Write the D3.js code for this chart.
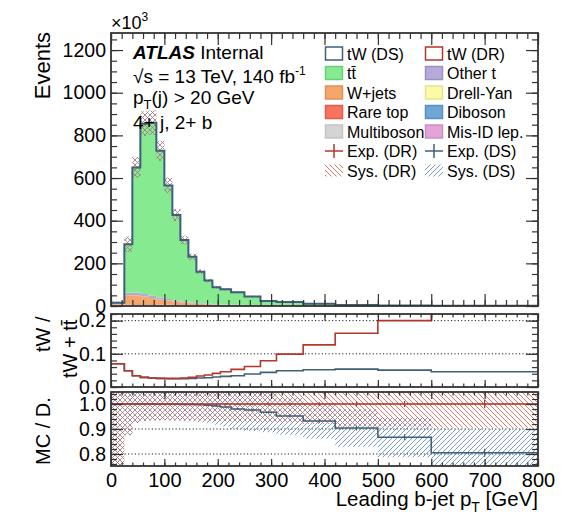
<!DOCTYPE html>
<html>
<head>
<meta charset="utf-8">
<script src="https://cdn.jsdelivr.net/npm/d3@7"></script>
<style>
body { margin: 0; background: #fff; }
text { font-family: "Liberation Sans", Arial, sans-serif; fill: #000; }
</style>
</head>
<body>
<svg id="chart" width="571" height="517"></svg>
<script>
// bin edges in GeV
var binEdges = [0, 25, 40, 55, 70, 85, 100, 115, 130, 145, 160, 175, 190, 205, 225, 250, 280, 310, 360, 420, 500, 600, 800]

// stacked MC, events / 1000
var misIdLep   = [0.5, 2, 2.5, 2.5, 2.2, 2, 1.6, 1.3, 1, 0.8, 0.6, 0.5, 0.4, 0.3, 0.3, 0.2, 0.1, 0.1, 0.05, 0.03, 0.02, 0.01]
var multiboson = [0.05, 0.05, 0.05, 0.05, 0.05, 0.05, 0.05, 0.05, 0.05, 0.05, 0.05, 0.05, 0.05, 0.05, 0.05, 0.05, 0.05, 0.05, 0.03, 0.02, 0.01, 0.01]
var diboson    = [0.2, 0.6, 0.8, 0.8, 0.8, 0.7, 0.6, 0.5, 0.4, 0.35, 0.3, 0.25, 0.2, 0.2, 0.15, 0.12, 0.1, 0.08, 0.05, 0.03, 0.02, 0.01]
var drellYan   = [0.3, 1, 1.2, 1.2, 1.1, 1, 0.8, 0.6, 0.5, 0.4, 0.3, 0.25, 0.2, 0.15, 0.12, 0.1, 0.07, 0.05, 0.03, 0.02, 0.01, 0.01]
var rareTop    = [0.8, 3, 4, 4, 4, 3.6, 3.2, 2.8, 2.4, 2, 1.6, 1.3, 1.1, 1, 0.9, 0.7, 0.5, 0.45, 0.3, 0.2, 0.1, 0.05]
var wJets      = [6, 44, 42, 36, 29, 23, 19, 15, 12, 9, 7, 5.5, 4.2, 3.6, 3, 2.2, 1.4, 1.1, 0.7, 0.4, 0.2, 0.1]
var otherT     = [5, 12, 13, 12, 10.5, 9, 7.5, 6, 5, 4, 3.2, 2.6, 2.1, 1.8, 1.5, 1.1, 0.8, 0.6, 0.4, 0.2, 0.12, 0.05]
var ttbar      = [2, 227, 586, 798, 812, 688, 532, 400, 288, 214, 148, 109, 80, 71, 58, 39.5, 20, 16.6, 9.5, 4.1, 2, 1]

// tW / (tW + ttbar)
var fracDR = [0.070, 0.049, 0.034, 0.029, 0.027, 0.026, 0.026, 0.026, 0.027, 0.029, 0.033, 0.036, 0.041, 0.046, 0.053, 0.062, 0.079, 0.099, 0.127, 0.162, 0.200, 0.300]
var fracDS = [0.070, 0.049, 0.034, 0.029, 0.027, 0.026, 0.025, 0.025, 0.025, 0.026, 0.027, 0.028, 0.030, 0.032, 0.034, 0.039, 0.044, 0.049, 0.052, 0.054, 0.051, 0.046]

// MC / data
var mcDataDR = [1, 1, 1, 1, 1, 1, 1, 1, 1, 1, 1, 1, 1, 1, 1, 1, 1, 1, 1, 1, 1, 1]
var mcDataDS = [1, 1, 1, 1, 1, 0.999, 0.999, 0.999, 0.998, 0.998, 0.997, 0.995, 0.992, 0.988, 0.980, 0.976, 0.967, 0.952, 0.932, 0.904, 0.867, 0.805]
var expErr   = [0.004, 0.002, 0.002, 0.002, 0.002, 0.002, 0.002, 0.002, 0.002, 0.003, 0.003, 0.003, 0.004, 0.004, 0.004, 0.005, 0.006, 0.006, 0.008, 0.010, 0.012, 0.016]
var sysDR    = [0.40, 0.125, 0.076, 0.068, 0.066, 0.065, 0.065, 0.065, 0.065, 0.065, 0.066, 0.067, 0.068, 0.069, 0.07, 0.07, 0.072, 0.075, 0.08, 0.09, 0.09, 0.095]
var sysDS    = [0.40, 0.125, 0.076, 0.068, 0.066, 0.065, 0.065, 0.066, 0.067, 0.068, 0.07, 0.072, 0.075, 0.078, 0.08, 0.084, 0.08, 0.075, 0.07, 0.075, 0.08, 0.095]

var mainTicks = [0, 200, 400, 600, 800, 1000, 1200]
var fracTicks = [0, 0.1, 0.2]
var mcTicks = [0.8, 0.9, 1.0]
var xTicks = [0, 100, 200, 300, 400, 500, 600, 700, 800]

var cDS = "#3f5f7b", cDR = "#b3372d"

var layers = [
    {key: "misid", values: misIdLep, color: "#e3a5d8"},
    {key: "multib", values: multiboson, color: "#d4d4d4"},
    {key: "dib", values: diboson, color: "#6fa7d4"},
    {key: "dy", values: drellYan, color: "#fbfaa8"},
    {key: "rare", values: rareTop, color: "#f7735f"},
    {key: "wjets", values: wJets, color: "#f5a66b"},
    {key: "othert", values: otherT, color: "#b6aad9"},
    {key: "ttbar", values: ttbar, color: "#86ea90"}
]

var svg = d3.select("#chart")
var defs = svg.append("defs")

function hatch(id, color, dir) {
    var p = defs.append("pattern").attr("id", id)
        .attr("patternUnits", "userSpaceOnUse").attr("width", 5).attr("height", 5)
    var d = dir == "back" ? "M-1,-1 L6,6 M-1,4 L1,6 M4,-1 L6,1" : "M-1,6 L6,-1 M-1,1 L1,-1 M4,6 L6,4"
    p.append("path").attr("d", d).attr("stroke", color).attr("stroke-width", 0.9).attr("fill", "none")
}
hatch("hDR", "#d9685e", "back")
hatch("hDS", "#6a93b6", "fwd")
hatch("hDRl", "#d9685e", "back")

var x = d3.scaleLinear().domain([0, 800]).range([111, 538])
var yMain = d3.scaleLinear().domain([0, 1280]).range([306, 33])
var yFrac = d3.scaleLinear().domain([0, 0.22]).range([387, 314])
var yMc = d3.scaleLinear().domain([0.752, 1.048]).range([466, 392])

function clip(id, y0, y1) {
    defs.append("clipPath").attr("id", id).append("rect")
        .attr("x", 111).attr("y", y0).attr("width", 427).attr("height", y1 - y0)
}
clip("cMain", 33, 306)
clip("cFrac", 314, 387)
clip("cMc", 392, 466)

function stepPts() {
    var pts = []
    for (var i = 0; i < binEdges.length - 1; i++) {
        pts.push({x: binEdges[i], i: i})
        pts.push({x: binEdges[i + 1], i: i})
    }
    return pts
}

function stepLine(y, vals) {
    return d3.line().x(function(p) { return x(p.x) }).y(function(p) { return y(vals[p.i]) })(stepPts())
}

// ---------- main panel ----------
var rows = binEdges.slice(0, -1).map(function(e, i) {
    var r = {}
    layers.forEach(function(l) { r[l.key] = l.values[i] })
    return r
})
var series = d3.stack().keys(layers.map(function(l) { return l.key }))(rows)
var total = series[series.length - 1].map(function(s) { return s[1] })

var gMain = svg.append("g").attr("clip-path", "url(#cMain)")
var area = function(s) {
    return d3.area().x(function(p) { return x(p.x) })
        .y0(function(p) { return yMain(s[p.i][0]) })
        .y1(function(p) { return yMain(s[p.i][1]) })(stepPts())
}
series.forEach(function(s, k) {
    gMain.append("path").attr("d", area(s)).attr("fill", layers[k].color)
})

// sys bands on the stack
;[["hDS", sysDS], ["hDR", sysDR]].forEach(function(b) {
    gMain.selectAll(null).data(total).enter().append("rect")
        .attr("x", function(d, i) { return x(binEdges[i]) })
        .attr("width", function(d, i) { return x(binEdges[i + 1]) - x(binEdges[i]) })
        .attr("y", function(d, i) { return yMain(d * (1 + b[1][i])) })
        .attr("height", function(d, i) { return yMain(d * (1 - b[1][i])) - yMain(d * (1 + b[1][i])) })
        .attr("fill", "url(#" + b[0] + ")")
})

gMain.append("path").attr("d", "M" + x(0) + "," + yMain(0) + " L" + stepLine(yMain, total).slice(1))
    .attr("fill", "none").attr("stroke", cDS).attr("stroke-width", 2)

// ---------- tW fraction panel ----------
var gFrac = svg.append("g").attr("clip-path", "url(#cFrac)")
fracTicks.slice(1).forEach(function(t) {
    gFrac.append("line").attr("x1", 111).attr("x2", 538).attr("y1", yFrac(t)).attr("y2", yFrac(t))
        .attr("stroke", "#222").attr("stroke-width", 1).attr("stroke-dasharray", "1.2,2.2")
})
gFrac.append("path").attr("d", stepLine(yFrac, fracDS)).attr("fill", "none").attr("stroke", cDS).attr("stroke-width", 1.6)
gFrac.append("path").attr("d", stepLine(yFrac, fracDR)).attr("fill", "none").attr("stroke", cDR).attr("stroke-width", 1.6)

// ---------- MC / data panel ----------
var gMc = svg.append("g").attr("clip-path", "url(#cMc)")
mcTicks.forEach(function(t) {
    gMc.append("line").attr("x1", 111).attr("x2", 538).attr("y1", yMc(t)).attr("y2", yMc(t))
        .attr("stroke", "#222").attr("stroke-width", 1).attr("stroke-dasharray", "1.2,2.2")
})
;[["hDS", mcDataDS, sysDS], ["hDR", mcDataDR, sysDR]].forEach(function(b) {
    gMc.selectAll(null).data(b[1]).enter().append("rect")
        .attr("x", function(d, i) { return x(binEdges[i]) })
        .attr("width", function(d, i) { return x(binEdges[i + 1]) - x(binEdges[i]) })
        .attr("y", function(d, i) { return yMc(d + b[2][i]) })
        .attr("height", function(d, i) { return yMc(d - b[2][i]) - yMc(d + b[2][i]) })
        .attr("fill", "url(#" + b[0] + ")")
})
;[[mcDataDS, cDS], [mcDataDR, cDR]].forEach(function(b) {
    gMc.append("path").attr("d", stepLine(yMc, b[0])).attr("fill", "none").attr("stroke", b[1]).attr("stroke-width", 1.6)
    gMc.selectAll(null).data(b[0]).enter().append("line")
        .attr("x1", function(d, i) { return x((binEdges[i] + binEdges[i + 1]) / 2) })
        .attr("x2", function(d, i) { return x((binEdges[i] + binEdges[i + 1]) / 2) })
        .attr("y1", function(d, i) { return yMc(d + expErr[i]) })
        .attr("y2", function(d, i) { return yMc(d - expErr[i]) })
        .attr("stroke", b[1]).attr("stroke-width", 1.2)
})

// ---------- frames and ticks ----------
function frame(y, y0, y1, major, minor, big, small, labels, fmt) {
    var g = svg.append("g")
    var xMinor = d3.range(0, 801, 20)
    var ax = [
        [d3.axisBottom(x).tickValues(xTicks).tickSize(-big), y1, false],
        [d3.axisBottom(x).tickValues(xMinor).tickSize(-small), y1, false],
        [d3.axisTop(x).tickValues(xTicks).tickSize(-big), y0, false],
        [d3.axisTop(x).tickValues(xMinor).tickSize(-small), y0, false]
    ]
    ax.forEach(function(a) {
        var ga = g.append("g").attr("transform", "translate(0," + a[1] + ")").call(a[0].tickFormat(""))
        ga.select(".domain").remove()
        ga.selectAll("line").attr("stroke", "#333").attr("stroke-width", 1.2)
    })
    var ay = [
        [d3.axisLeft(y).tickValues(major).tickSize(-12), 111],
        [d3.axisLeft(y).tickValues(minor).tickSize(-6), 111],
        [d3.axisRight(y).tickValues(major).tickSize(-12), 538],
        [d3.axisRight(y).tickValues(minor).tickSize(-6), 538]
    ]
    ay.forEach(function(a, k) {
        var ga = g.append("g").attr("transform", "translate(" + a[1] + ",0)")
            .call(a[0].tickFormat(k == 0 ? fmt : "").tickPadding(5))
        ga.select(".domain").remove()
        ga.selectAll("line").attr("stroke", "#333").attr("stroke-width", 1.2)
        ga.selectAll("text").attr("font-size", 19.5).attr("font-family", "Liberation Sans, Arial, sans-serif").attr("fill", "#000")
    })
    g.append("rect").attr("x", 111).attr("y", y0).attr("width", 427).attr("height", y1 - y0)
        .attr("fill", "none").attr("stroke", "#333").attr("stroke-width", 1.8)
    if (labels) {
        var gl = g.append("g").attr("transform", "translate(0," + y1 + ")")
            .call(d3.axisBottom(x).tickValues(xTicks).tickSize(0).tickPadding(7))
        gl.select(".domain").remove()
        gl.selectAll("text").attr("font-size", 20).attr("font-family", "Liberation Sans, Arial, sans-serif").attr("fill", "#000")
    }
}
frame(yMain, 33, 306, mainTicks, d3.range(0, 1281, 50), 12, 6, false, d3.format("d"))
frame(yFrac, 314, 387, fracTicks, d3.range(0, 0.221, 0.02), 7, 3.5, false, d3.format(".1f"))
frame(yMc, 392, 466, mcTicks, d3.range(0.76, 1.048, 0.02), 7, 3.5, true, d3.format(".1f"))

// ---------- texts ----------
var t = svg.append("text").attr("x", 111).attr("y", 29).attr("font-size", 18)
t.append("tspan").text("×10")
t.append("tspan").attr("font-size", 12).attr("dy", -8).text("3")

svg.append("text").attr("transform", "translate(50,32) rotate(-90)").attr("text-anchor", "end")
    .attr("font-size", 22).text("Events")
svg.append("text").attr("transform", "translate(50,465) rotate(-90)").attr("font-size", 20).text("MC / D.")
svg.append("text").attr("transform", "translate(50,352) rotate(-90)").attr("font-size", 20).text("tW /")
svg.append("text").attr("transform", "translate(77,378) rotate(-90)").attr("font-size", 20).text("tW + tt\u0304")

var xl = svg.append("text").attr("x", 538).attr("y", 506).attr("text-anchor", "end").attr("font-size", 20.5)
xl.append("tspan").text("Leading b-jet p")
xl.append("tspan").attr("font-size", 14).attr("dy", 6).text("T")
xl.append("tspan").attr("dy", -6).text(" [GeV]")

var a1 = svg.append("text").attr("x", 133).attr("y", 59).attr("font-size", 19)
a1.append("tspan").attr("font-weight", "bold").attr("font-style", "italic").text("ATLAS")
a1.append("tspan").text(" Internal")
var a2 = svg.append("text").attr("x", 133).attr("y", 83).attr("font-size", 19)
a2.append("tspan").text("\u221As = 13 TeV, 140 fb")
a2.append("tspan").attr("font-size", 12).attr("dy", -8).text("-1")
var a3 = svg.append("text").attr("x", 133).attr("y", 104).attr("font-size", 19)
a3.append("tspan").text("p")
a3.append("tspan").attr("font-size", 13).attr("dy", 5).text("T")
a3.append("tspan").attr("dy", -5).text("(j) > 20 GeV")
svg.append("text").attr("x", 133).attr("y", 129).attr("font-size", 19).text("4+ j, 2+ b")

// ---------- legend ----------
var legendItems = [
    ["box", "tW (DS)", "#fff", cDS], ["box", "tW (DR)", "#fff", cDR],
    ["box", "tt\u0304", "#86ea90", "#6ccf78"], ["box", "Other t", "#b6aad9", "#9d90c4"],
    ["box", "W+jets", "#f5a66b", "#e09058"], ["box", "Drell-Yan", "#fbfaa8", "#e4e38f"],
    ["box", "Rare top", "#f7735f", "#e05e4c"], ["box", "Diboson", "#6fa7d4", "#5a90bd"],
    ["box", "Multiboson", "#d4d4d4", "#c4c4c4"], ["box", "Mis-ID lep.", "#e3a5d8", "#cc8ec2"],
    ["exp", "Exp. (DR)", cDR], ["exp", "Exp. (DS)", cDS],
    ["sys", "Sys. (DR)", "hDRl"], ["sys", "Sys. (DS)", "hDS"]
]
var lg = svg.append("g")
legendItems.forEach(function(it, k) {
    var lx = k % 2 == 0 ? 325 : 425
    var ly = 53.5 + Math.floor(k / 2) * 19.5
    if (it[0] == "box") {
        lg.append("rect").attr("x", lx + 0.5).attr("y", ly - 6.5).attr("width", 17).attr("height", 13)
            .attr("fill", it[2]).attr("stroke", it[3]).attr("stroke-width", 1.5)
    } else if (it[0] == "exp") {
        lg.append("line").attr("x1", lx).attr("x2", lx + 18).attr("y1", ly).attr("y2", ly).attr("stroke", it[2]).attr("stroke-width", 1.5)
        lg.append("line").attr("x1", lx + 9).attr("x2", lx + 9).attr("y1", ly - 7).attr("y2", ly + 7).attr("stroke", it[2]).attr("stroke-width", 1.5)
    } else {
        lg.append("rect").attr("x", lx).attr("y", ly - 6).attr("width", 18).attr("height", 12).attr("fill", "url(#" + it[2] + ")")
    }
    lg.append("text").attr("x", lx + 22).attr("y", ly + 6).attr("font-size", 16).text(it[1])
})
</script>
</body>
</html>
